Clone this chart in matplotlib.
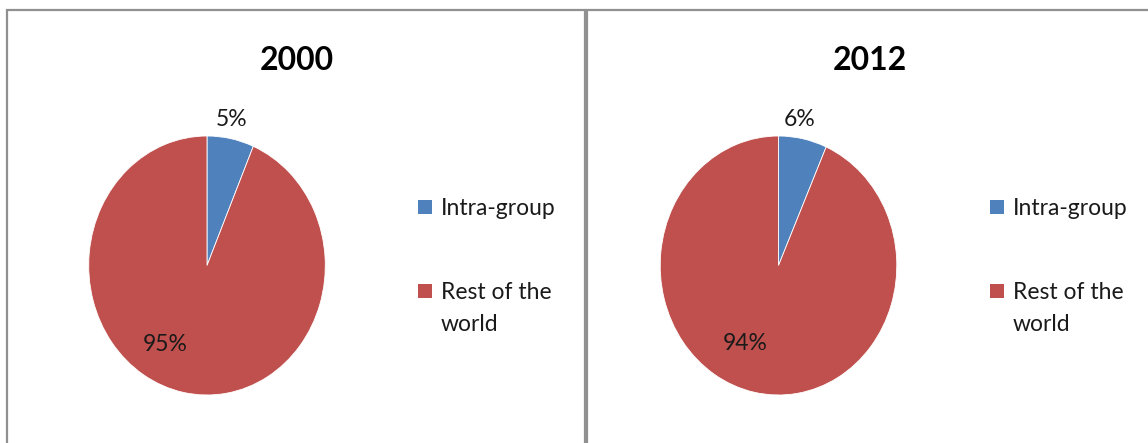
import matplotlib
matplotlib.use("Agg")
import matplotlib.pyplot as plt
from matplotlib.patches import Rectangle

plt.rcParams['font.family'] = ['Lato', 'DejaVu Sans']

# ---- data ----
categories = ["Intra-group", "Rest of the\nworld"]
years = ["2000", "2012"]
shares_2000 = [6.4, 93.6]
shares_2012 = [6.6, 93.4]
labels_2000 = ["5%", "95%"]
labels_2012 = ["6%", "94%"]
colors = ["#4F81BD", "#C0504D"]

W, H = 1148, 443
fig = plt.figure(figsize=(W / 100, H / 100), dpi=100)
fig.patch.set_facecolor("white")

def px_rect(x0, y0, x1, y1):
    return [x0 / W, 1 - y1 / H, (x1 - x0) / W, (y1 - y0) / H]

# panel borders
for (x0, x1) in [(7, 585), (587, 1160)]:
    fig.patches.append(Rectangle((x0 / W, -0.1), (x1 - x0) / W, 1 - 10 / H + 0.1,
                                 transform=fig.transFigure, fill=False,
                                 edgecolor="#909090", linewidth=1.6))

panels = [
    dict(year=years[0], shares=shares_2000, labels=labels_2000, cx=207, title_x=297,
         lab_pos=[(0.21, 1.13), (-0.35, -0.61)]),
    dict(year=years[1], shares=shares_2012, labels=labels_2012, cx=778.5, title_x=870,
         lab_pos=[(0.18, 1.13), (-0.28, -0.60)]),
]

cy, rx, ry = 265.5, 118.3, 129.5
for p in panels:
    ax = fig.add_axes(px_rect(p["cx"] - rx, cy - ry, p["cx"] + rx, cy + ry))
    ax.pie(p["shares"], colors=colors, startangle=90, counterclock=False, radius=1,
           wedgeprops=dict(edgecolor="white", linewidth=0.6))
    ax.set_xlim(-1, 1)
    ax.set_ylim(-1, 1)
    ax.set_aspect("auto")
    ax.axis("off")
    for (lx, ly), t in zip(p["lab_pos"], p["labels"]):
        ax.text(lx, ly, t, ha="center", va="center", fontsize=16.5, color="#1a1a1a",
                clip_on=False)
    fig.text(p["title_x"] / W, 1 - 60 / H, p["year"], ha="center", va="center",
             fontsize=23, fontweight="bold", color="black")
    # legend
    lx = p["cx"] + 211
    for i, (cat, col) in enumerate(zip(categories, colors)):
        ly = 207 if i == 0 else 291
        fig.patches.append(Rectangle((lx / W, 1 - (ly + 7) / H), 14 / W, 14 / H,
                                     transform=fig.transFigure, facecolor=col,
                                     edgecolor="none"))
        fig.text((lx + 23) / W, 1 - (ly - 9) / H, cat, ha="left", va="top",
                 fontsize=16.5, color="#1a1a1a", linespacing=1.62)

fig.savefig("out.png", dpi=100, facecolor="white")
